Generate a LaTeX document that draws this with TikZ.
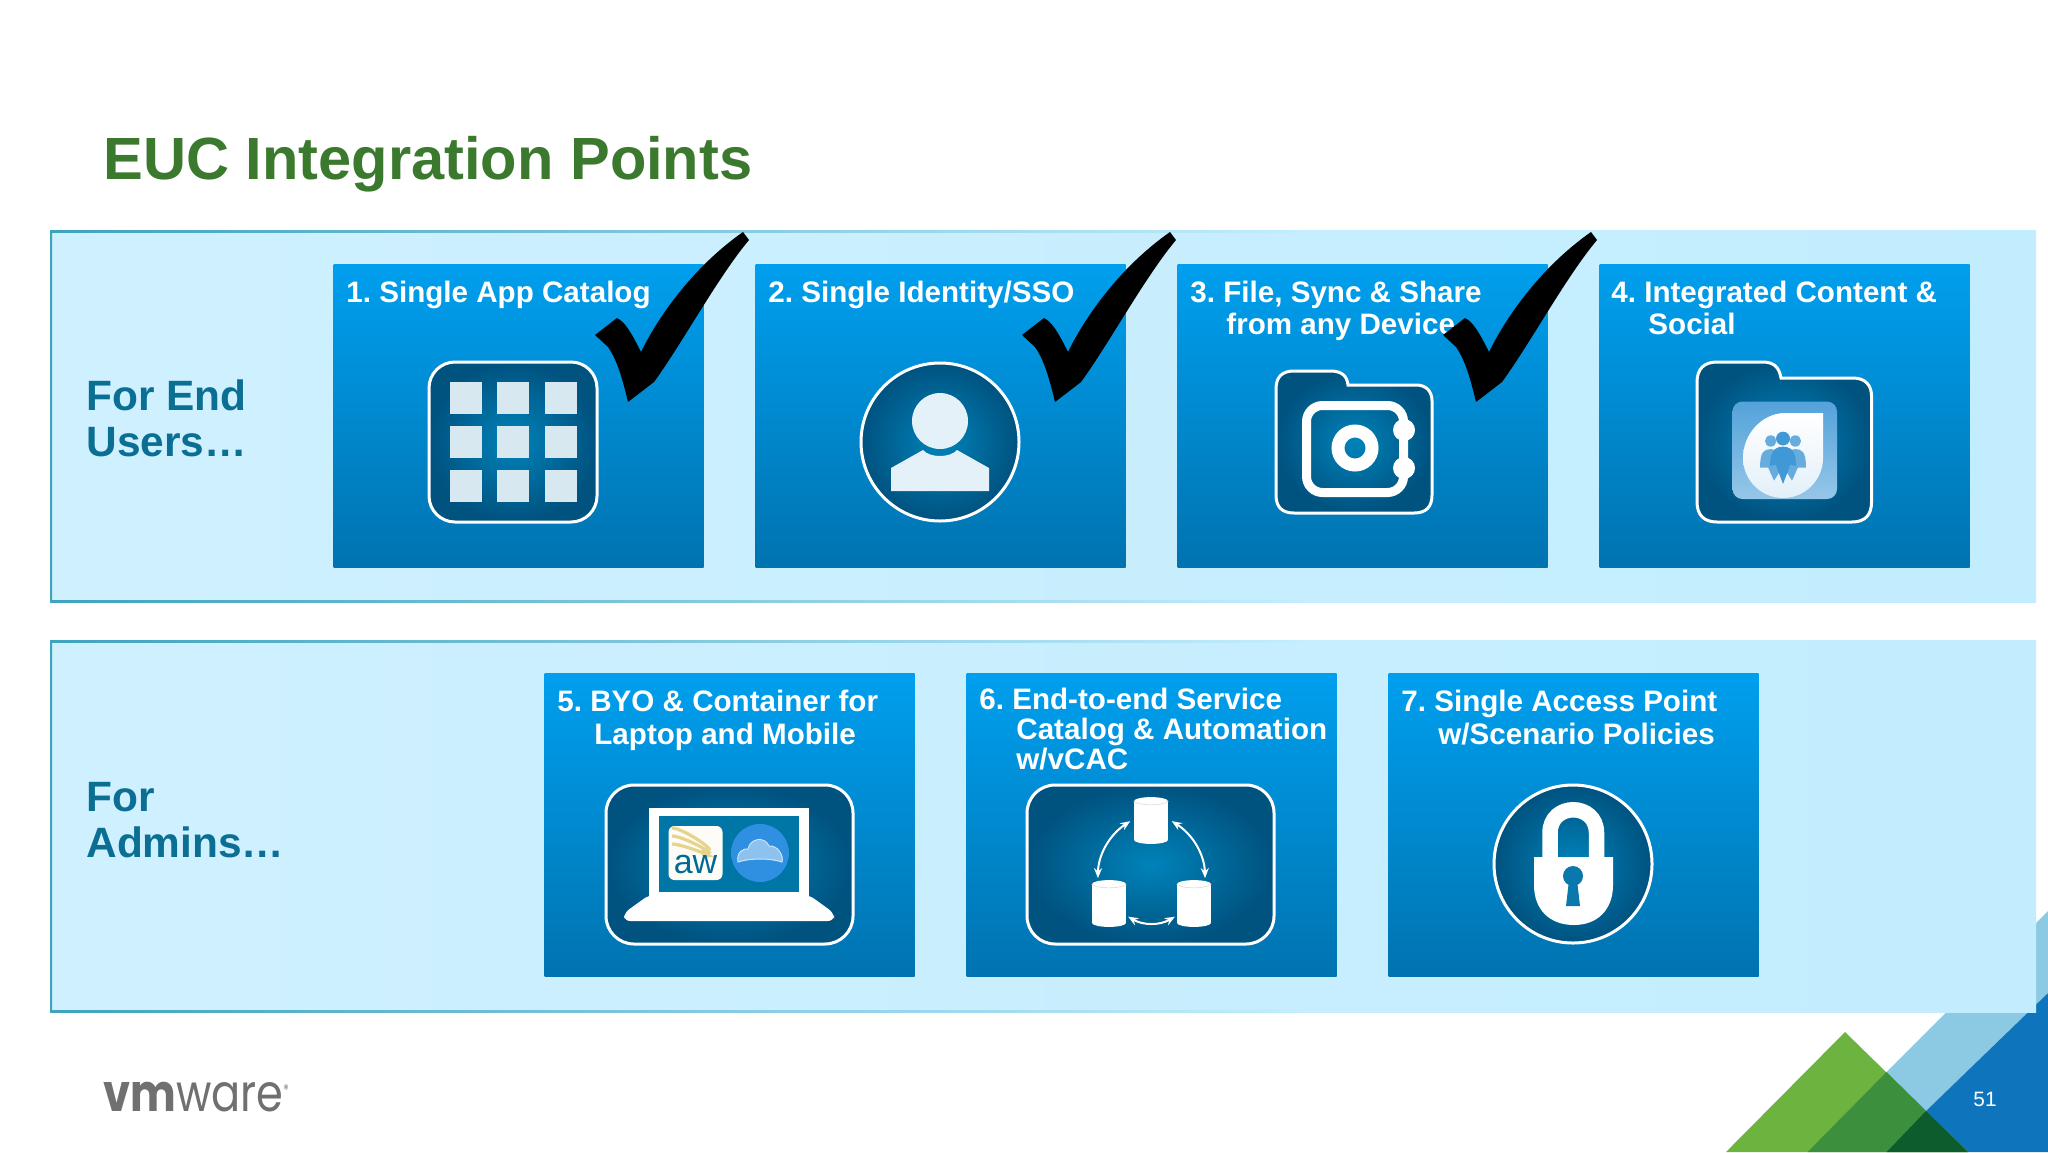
\documentclass[tikz,border=0pt]{standalone}
\usepackage{fontspec}
\setmainfont{Liberation Sans}
\newfontfamily\logofont{Poppins}
\usepackage{xcolor}
\usetikzlibrary{positioning, shapes.geometric, arrows.meta, calc}
\frenchspacing

\definecolor{panelleft}{HTML}{CFF0FF}
\definecolor{panelright}{HTML}{C2EDFE}
\definecolor{paneledge}{HTML}{3FA3BE}
\definecolor{tiletop}{HTML}{009FEE}
\definecolor{tilebot}{HTML}{0073B0}
\definecolor{iconin}{HTML}{0083BA}
\definecolor{iconout}{HTML}{00527F}
\definecolor{titlegreen}{HTML}{3B7A2E}
\definecolor{labelteal}{HTML}{0B6E93}
\definecolor{keyblue}{HTML}{0A78AC}
\definecolor{gridpale}{HTML}{D8E8F0}
\definecolor{personpale}{HTML}{E4F1F9}
\definecolor{leafgreen}{HTML}{6DB33F}
\definecolor{midgreen}{HTML}{3C8F3C}
\definecolor{deepgreen}{HTML}{0D5C2E}
\definecolor{skyblue}{HTML}{8CCAE4}
\definecolor{seablue}{HTML}{0E75BC}
\definecolor{logogray}{HTML}{707070}
\definecolor{cloudblue}{HTML}{2F8FE0}
\definecolor{socialblue}{HTML}{4098D6}
\definecolor{awgold}{HTML}{E6D48E}

\tikzset{
  pics/tickmark/.style={code={
    \fill[black] (0,0) -- (6,8) .. controls (-25,45) and (-60,110) .. (-89,150)
      -- (-115,170) .. controls (-122,140) and (-128,125) .. (-135,115)
      -- (-148,103) -- (-126,86) .. controls (-118,90) and (-112,100) .. (-102,120)
      .. controls (-85,85) and (-50,35) .. (0,0) -- cycle;
  }}
}

\begin{document}
\begin{tikzpicture}[
  x=0.5pt, y=-0.5pt,
  >={Stealth[length=5pt,width=4pt]},
  panelbox/.style={left color=panelleft, right color=panelright, inner sep=0pt,
                   minimum width=993pt, minimum height=186pt},
  paneltrim/.style={left color=paneledge, right color=panelright},
  tilebox/.style={top color=tiletop, bottom color=tilebot, inner sep=0pt,
                  minimum width=185pt, minimum height=151.5pt},
  tilelabel/.style={text=white, font=\fontsize{14.8}{16.2}\selectfont\bfseries,
                    align=left, anchor=north west, inner sep=0pt},
  grouplabel/.style={text=labelteal, font=\fontsize{21.2}{23}\selectfont\bfseries,
                     align=left, anchor=north west, inner sep=0pt},
  iconframe/.style={draw=white, line width=1.5pt, inner color=iconin, outer color=iconout},
  iconrect/.style={iconframe, rectangle, inner sep=0pt},
  iconround/.style={iconframe, circle, inner sep=0pt, minimum size=79pt},
  gridcell/.style={fill=gridpale},
  dbnode/.style={rectangle, fill=white, inner sep=0pt, minimum width=17pt, minimum height=19pt},
  dblink/.style={<->, white, line width=1pt, shorten >=3pt, shorten <=2pt}
]
\useasboundingbox (0,0) rectangle (2048,1152);
\fill[white] (0,0) rectangle (2048,1152);

% ---- CORNER TRIANGLES ----
\fill[leafgreen] (1845,1032) -- (1726,1152) -- (1968,1152) -- cycle;
\fill[skyblue] (2048,911) -- (1886.5,1072) -- (1926,1111) -- (2048,993) -- cycle;
\fill[seablue] (2048,993) -- (1926,1111) -- (1968,1152) -- (2048,1152) -- cycle;
\fill[midgreen] (1886.5,1072) -- (1807.6,1152) -- (1968,1152) -- cycle;
\fill[deepgreen] (1926,1111) -- (1886.6,1152) -- (1968,1152) -- cycle;
\node[text=white, font=\fontsize{10.4}{12}\selectfont, inner sep=0pt] (pagenum) at (1985,1099) {51};

% ---- HEADER ----
\node[text=titlegreen, font=\fontsize{29.8}{32}\selectfont\bfseries, anchor=base west, inner sep=0pt]
  (title) at (103,179) {EUC Integration Points};

% ==== PANELS ====
\node[panelbox] (userpanel) at (1043,416) {};
\node[panelbox] (adminpanel) at (1043,826) {};
\fill[paneledge] (50,230) rectangle (52,602) (50,640) rectangle (52,1012);
\shade[paneltrim] (50,230) rectangle (1300,232);
\shade[paneltrim] (50,600) rectangle (1300,602);
\shade[paneltrim] (50,640) rectangle (1300,642);
\shade[paneltrim] (50,1010) rectangle (1300,1012);
\node[grouplabel] (userlabel) at (86,379) {For End\\Users…};
\node[grouplabel] (adminlabel) at (86,782) {For\\Admins…};

% ==== TILES ====
\node[tilebox] (tile1) at (518.5,415.5) {};
\node[tilebox] (tile2) at (940.5,415.5) {};
\node[tilebox] (tile3) at (1362.5,415.5) {};
\node[tilebox] (tile4) at (1784.5,415.5) {};
\node[tilebox] (tile5) at (729.5,825) {};
\node[tilebox] (tile6) at (1151.5,825) {};
\node[tilebox] (tile7) at (1573.5,825) {};

\node[tilelabel] (text1) at (346,280.5) {1. Single App Catalog};
\node[tilelabel] (text2) at (768,280.5) {2. Single Identity/SSO};
\node[tilelabel] (text3) at (1190,280.5) {3. File, Sync \& Share\\\hspace*{18pt}from any Device};
\node[tilelabel] (text4) at (1611,280.5) {4. Integrated Content \&\\\hspace*{18.5pt}Social};
\node[tilelabel] (text5) at (557,690) {5. BYO \& Container for\\\hspace*{18.5pt}Laptop and Mobile};
\node[tilelabel, font=\fontsize{14.8}{15}\selectfont\bfseries] (text6) at (979,688)
  {6. End-to-end Service\\\hspace*{18.5pt}Catalog \& Automation\\\hspace*{18.5pt}w/vCAC};
\node[tilelabel] (text7) at (1401,690) {7. Single Access Point\\\hspace*{18.5pt}w/Scenario Policies};

% ---- Icon 1: app grid ----
\node[iconrect, rounded corners=13pt, minimum width=84pt, minimum height=80pt] (gridicon) at (513,442) {};
\foreach \cx in {466,513,561} {
  \foreach \cy in {398,442,486} {
    \fill[gridcell] (\cx-16,\cy-16) rectangle (\cx+16,\cy+16);
  }
}

% ---- Icon 2: person ----
\node[iconround] (personicon) at (940,442) {};
\fill[personpale] (940,421) ellipse (28 and 28);
\fill[personpale] (891,491) -- (891,468) -- (923,450)
  .. controls (930,458) and (950,458) .. (957,450) -- (989,468) -- (989,491) -- cycle;

% ---- Icon 3: safe in folder ----
\draw[iconframe] (1276,495) -- (1276,389) .. controls (1276,377) and (1282,371) .. (1294,371)
  -- (1330,371) .. controls (1342,371) and (1347,376) .. (1348,385) -- (1416,385)
  .. controls (1426,385) and (1432,391) .. (1432,401) -- (1432,495)
  .. controls (1432,507) and (1426,513) .. (1414,513) -- (1294,513)
  .. controls (1282,513) and (1276,507) .. (1276,495) -- cycle;
\draw[white, line width=4.5pt, rounded corners=8pt] (1306.5,405.5) rectangle (1403.5,492.5);
\draw[white, line width=6.5pt] (1355,448) circle (17);
\fill[white] (1404,430) circle (11) (1404,468) circle (11);

% ---- Icon 4: social in folder ----
\draw[iconframe] (1697,502) -- (1697,382) .. controls (1697,369) and (1704,362) .. (1717,362)
  -- (1762,362) .. controls (1774,362) and (1779,367) .. (1781,378) -- (1853,378)
  .. controls (1865,378) and (1871.5,385) .. (1871.5,396) -- (1871.5,502)
  .. controls (1871.5,515) and (1865,522) .. (1852,522) -- (1717,522)
  .. controls (1704,522) and (1697,515) .. (1697,502) -- cycle;
\shade[top color=socialblue!90!white, bottom color=socialblue!55!white, rounded corners=5pt]
  (1732.5,401.5) rectangle (1837,499);
\shade[top color=white, bottom color=white!85!socialblue] (1823,413) -- (1823,458)
  .. controls (1823,480) and (1805,498) .. (1783,498)
  .. controls (1761,498) and (1743,480) .. (1743,458)
  .. controls (1743,433) and (1763,413) .. (1785,413) -- cycle;
\begin{scope}[shift={(1783,458)}, x=0.41pt, y=-0.405pt]
  \fill[socialblue!80!white] (-15,-21) circle (7) (15,-21) circle (7);
  \fill[socialblue!80!white] (-28,12) .. controls (-28,-8) and (-23,-11) .. (-15,-11)
    .. controls (-8,-11) and (-3,-8) .. (-1,12) -- (-11,28) -- (-18,12) -- cycle;
  \fill[socialblue!80!white] (28,12) .. controls (28,-8) and (23,-11) .. (15,-11)
    .. controls (8,-11) and (3,-8) .. (1,12) -- (11,28) -- (18,12) -- cycle;
  \fill[socialblue] (0,-24) circle (8.5);
  \fill[socialblue] (-16,10) .. controls (-16,-8) and (-10,-14) .. (0,-14)
    .. controls (10,-14) and (16,-8) .. (16,10) -- (9,8) -- (0,32) -- (-9,8) -- cycle;
\end{scope}

% ---- Icon 5: laptop ----
\node[iconrect, rounded corners=14pt, minimum width=123.5pt, minimum height=79.5pt] (laptopicon) at (729.5,864.5) {};
\fill[white] (649,808) rectangle (809,897);
\fill[white, rounded corners=3pt] (649,895) -- (809,895) -- (834,913) -- (834,921) -- (624,921) -- (624,913) -- cycle;
\fill[iconin!90!black] (659,816) rectangle (799,892);
\fill[white!92!awgold, rounded corners=3pt] (668.5,826) rectangle (722.5,880);
\foreach \arcrad in {14,22,30} {
  \draw[awgold, line width=1.6pt] (672,858) ++(0,-\arcrad) .. controls +(12,0) and +(24,8) .. +(30,\arcrad*0.7);
}
\node[text=iconin!80!black, font=\fontsize{17}{17}\selectfont, inner sep=0pt] (awtext) at (695.5,864) {aw};
\node[fill=cloudblue, circle, inner sep=0pt, minimum size=29pt] (cloudbadge) at (760,853) {};
\fill[cloudblue!55!white, draw=white!75!cloudblue, line width=0.5pt] (738,862) .. controls (736,852) and (744,848) .. (748,849)
  .. controls (750,838) and (765,836) .. (769,846) .. controls (777,845) and (784,855) .. (782,862)
  .. controls (770,858) and (750,858) .. (738,862) -- cycle;

% ---- Icon 6: three databases ----
\node[iconrect, rounded corners=14pt, minimum width=123.5pt, minimum height=79.5pt] (dbicon) at (1150.5,864.5) {};
\node[dbnode] (dbtop) at (1151,820.5) {};
\node[dbnode] (dbleft) at (1109,903.5) {};
\node[dbnode] (dbright) at (1194,903.5) {};
\foreach \dbname in {dbtop,dbleft,dbright} {
  \fill[white] (\dbname.north) ellipse (17 and 4) (\dbname.south) ellipse (17 and 4);
  \draw[gray!30, line width=0.3pt] (\dbname.north west) .. controls +(5,5) and +(-5,5) .. (\dbname.north east);
}
\draw[dblink] (dbtop.175) to[bend right=28] (dbleft.120);
\draw[dblink] (dbtop.5) to[bend left=28] (dbright.60);
\draw[dblink, shorten >=1pt, shorten <=1pt] (dbleft.-35) to[bend right=30] (dbright.215);

% ---- Icon 7: padlock ----
\node[iconround] (lockicon) at (1573,864) {};
\draw[white, line width=7.75pt] (1550,862) -- (1550,833) .. controls (1550,802) and (1596.5,802) .. (1596.5,833) -- (1596.5,862);
\fill[white] (1534,857) -- (1613,857) -- (1613,885) .. controls (1613,910) and (1597,925) .. (1574,925)
  .. controls (1550,925) and (1534,910) .. (1534,885) -- cycle;
\fill[keyblue] (1573,876) circle (10) (1569,880) -- (1577,880) -- (1580,906) -- (1566,906) -- cycle;

% ---- CHECK MARKS ----
\pic at (743,232) {tickmark};
\pic at (1170,232) {tickmark};
\pic at (1591,232) {tickmark};

% ---- LOGO ----
\node[text=logogray, anchor=base west, inner sep=0pt, font=\logofont\fontsize{26}{26}\selectfont]
  (logo) at (103,1111) {\scalebox{0.83}[1]{\textbf{vm}ware\raisebox{9pt}{\fontsize{6}{6}\selectfont ®}}};

\end{tikzpicture}
\end{document}
